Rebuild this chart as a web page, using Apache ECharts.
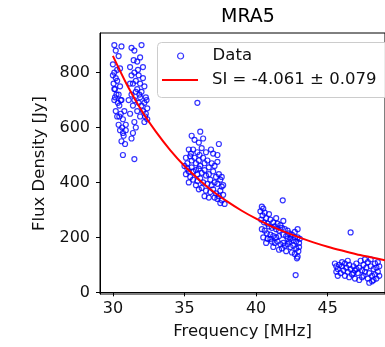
<!DOCTYPE html>
<html><head><meta charset="utf-8">
<script src="https://cdn.jsdelivr.net/npm/echarts@6/dist/echarts.min.js"></script>
<style>html,body{margin:0;padding:0;background:#fff}#c{width:385px;height:347px}</style>
</head><body><div id="c"></div>
<script>
const titleText = 'MRA5';
const xName = 'Frequency [MHz]';
const yName = 'Flux Density [Jy]';
const xTicks = [30, 35, 40, 45];
const yTicks = [0, 200, 400, 600, 800];
const dataName = 'Data';
const fitName = 'SI = -4.061 \u00b1 0.079';

const cluster30 = [
 [30.1,900],[30.2,880],[30.6,895],[30.4,860],[31.3,890],[31.5,880],[32.0,900],[31.7,840],[31.9,855],
 [30.0,830],[30.1,800],[30.05,760],[30.2,780],[30.3,770],[30.15,740],[30.25,720],[30.1,700],[30.4,720],
 [30.5,750],[30.35,690],[30.2,660],[30.45,680],[30.6,700],[30.3,640],[30.55,650],[30.7,630],[30.4,610],
 [30.65,600],[30.8,660],[30.5,590],[30.75,570],[30.9,610],[30.6,550],[30.85,540],[30.7,500],[30.1,740],
 [30.3,810],[30.0,790],[30.5,815],[30.45,640],[30.9,590],[30.55,700],[30.15,710],[30.7,580],
 [31.2,820],[31.3,790],[31.4,760],[31.5,800],[31.6,770],[31.7,740],[31.8,790],[31.9,760],[32.0,730],
 [32.1,780],[32.2,750],[32.3,710],[31.3,720],[31.5,700],[31.6,730],[31.8,690],[31.9,710],[32.0,680],
 [32.1,660],[32.2,690],[32.3,650],[32.4,630],[31.4,680],[31.7,660],[31.9,640],[32.2,620],[31.2,650],
 [31.5,620],[31.6,600],[31.4,580],[31.3,560],[31.1,700],[32.4,670],[32.35,700],[31.75,810],[31.45,845],
 [32.1,820],[31.2,760],[31.85,720],[32.25,640],[31.5,485]
];
const cluster36 = [
 [35.9,690],[35.5,570],[36.1,585],[35.7,555],[36.0,545],[36.3,560],[37.4,540],[35.3,520],[35.6,520],
 [35.9,510],[36.2,525],[36.5,510],[37.0,505],[37.3,500],[35.1,490],[35.2,470],[35.4,495],[35.5,480],
 [35.7,490],[35.8,470],[36.0,480],[36.1,460],[36.3,490],[36.4,470],[36.6,480],[36.7,455],[36.9,470],
 [37.1,460],[37.3,475],[35.0,460],[35.2,450],[35.3,440],[35.5,455],[35.6,440],[35.8,445],[35.9,430],
 [36.0,450],[36.2,435],[36.4,445],[36.5,425],[36.7,430],[36.8,410],[37.0,440],[37.2,420],[37.4,430],
 [35.1,430],[35.4,420],[35.6,410],[35.9,405],[36.1,415],[36.3,400],[36.6,395],[36.9,390],[37.1,400],
 [37.3,395],[37.5,410],[37.6,385],[36.2,380],[36.5,370],[36.8,365],[37.0,375],[37.2,360],[37.4,350],
 [37.5,370],[37.7,355],[37.3,340],[37.6,335],[37.8,322],[37.5,325],[37.1,345],[35.3,400],[35.8,390],
 [36.0,375],[36.4,350],[36.7,345],[37.7,390],[37.6,420],[35.45,505],[36.05,500],[36.85,520]
];
const cluster41 = [
 [41.86,335],[42.76,63],[40.4,312],[40.5,305],[40.3,295],[40.6,290],[40.45,280],[40.7,270],[40.35,265],
 [40.55,255],[40.8,250],[41.0,265],[41.2,255],[40.9,240],[40.4,230],[40.6,225],[40.75,215],[41.1,235],
 [41.3,240],[41.5,250],[41.7,245],[41.4,230],[41.6,225],[41.8,235],[42.0,230],[42.2,225],[41.0,210],
 [41.2,205],[40.5,200],[40.8,195],[41.4,200],[41.6,205],[41.9,210],[42.1,205],[42.3,215],[42.5,210],
 [42.7,220],[42.9,200],[42.4,195],[42.6,190],[42.8,185],[43.0,180],[41.1,185],[41.3,180],[41.5,185],
 [41.7,175],[41.9,180],[42.0,170],[42.2,175],[42.4,165],[42.6,170],[42.8,160],[43.0,165],[40.7,180],
 [41.8,160],[42.1,150],[42.5,145],[42.7,140],[42.9,130],[42.85,124],[41.6,155],[41.2,165],[42.3,185],
 [42.95,150],[42.9,230],[43.05,195],[41.4,270],[41.9,260],[40.9,285],[42.2,195],[41.0,195],[42.7,200]
];
const cluster47 = [
 [46.6,218],[45.5,105],[45.6,95],[45.7,85],[45.6,75],[45.8,100],[45.9,70],[46.0,95],[46.1,80],[46.2,60],
 [46.0,110],[46.3,90],[46.4,75],[46.5,55],[46.5,100],[46.6,85],[46.7,65],[46.8,95],[46.9,50],[46.9,80],
 [47.0,105],[47.1,70],[47.2,90],[47.2,45],[47.3,115],[47.4,80],[47.5,60],[47.5,100],[47.6,75],[47.7,90],
 [47.8,50],[47.8,110],[47.9,70],[48.0,95],[48.0,120],[48.1,60],[48.1,40],[48.2,85],[48.3,105],[48.3,65],
 [48.4,90],[48.4,50],[48.5,75],[48.5,110],[48.6,95],[48.6,60],[45.7,60],[46.2,105],[46.8,70],[47.4,55],
 [47.0,85],[47.6,120],[48.2,45],[46.4,115],[47.9,35]
];
const fitFreq = [30,31,32,33,34,35,36,37,38,39,40,41,42,43,44,45,46,47,48,49];
const fitFlux = [861,754,662,585,518,460,411,367,330,297,268,242,220,200,182,166,152,139,128,117];

const allData = cluster30.concat(cluster36, cluster41, cluster47);
const fitData = fitFreq.map((f, i) => [f, fitFlux[i]]);

const FONT = 'DejaVu Sans';
const chart = echarts.init(document.getElementById('c'), null, {renderer: 'canvas'});
chart.setOption({
  animation: false,
  backgroundColor: '#fff',
  title: {text: titleText, left: 221, top: 8, padding: 0,
    textStyle: {fontFamily: FONT, fontSize: 19, fontWeight: 'normal', color: '#000'}},
  grid: {left: 100, top: 33, width: 293, height: 261, show: true, borderColor: '#000', borderWidth: 1, backgroundColor: 'transparent'},
  xAxis: {type: 'value', min: 29.1, max: 49.0,
    name: xName, nameLocation: 'middle', nameGap: 29,
    nameTextStyle: {fontFamily: FONT, fontSize: 16.5, color: '#111'},
    axisLine: {show: true, lineStyle: {color: '#000', width: 1}},
    axisTick: {show: true, length: 4, lineStyle: {color: '#000'}, customValues: xTicks},
    axisLabel: {fontFamily: FONT, fontSize: 16, color: '#111', margin: 7, customValues: xTicks},
    splitLine: {show: false}},
  yAxis: {type: 'value', min: -6, max: 944,
    name: yName, nameLocation: 'middle', nameGap: 47,
    nameTextStyle: {fontFamily: FONT, fontSize: 16.5, color: '#111'},
    axisLine: {show: true, lineStyle: {color: '#000', width: 1}},
    axisTick: {show: true, length: 4, lineStyle: {color: '#000'}, customValues: yTicks},
    axisLabel: {fontFamily: FONT, fontSize: 16, color: '#111', margin: 10, customValues: yTicks},
    splitLine: {show: false}},
  graphic: [{type: 'rect', z: 100, shape: {x: 157.5, y: 42.5, width: 240, height: 55, r: 4},
    style: {fill: 'rgba(255,255,255,0.85)', stroke: '#cccccc', lineWidth: 1}}],
  legend: [
    {data: [{name: dataName, icon: 'circle'}], orient: 'vertical', left: 177, top: 47, padding: 0, z: 110,
      itemWidth: 6, itemHeight: 6, symbolKeepAspect: true,
      itemStyle: {color: 'transparent', borderColor: '#0000ff', borderWidth: 1.2},
      textStyle: {fontFamily: FONT, fontSize: 16.5, color: '#111', lineHeight: 18, padding: [0,0,0,24]}},
    {data: [{name: fitName, icon: 'rect', itemStyle: {color: '#ff0000', borderWidth: 0}}], orient: 'vertical', left: 162, top: 71, padding: 0, z: 110,
      itemWidth: 36, itemHeight: 2,
      textStyle: {fontFamily: FONT, fontSize: 16.5, color: '#111', lineHeight: 18, padding: [0,0,0,9]}}
  ],
  series: [
    {name: dataName, type: 'scatter', data: allData, symbol: 'circle', symbolSize: 5,
      itemStyle: {color: 'transparent', borderColor: '#0000ff', borderWidth: 1.2}, z: 2},
    {name: fitName, type: 'line', data: fitData, symbol: 'none', showSymbol: false, smooth: 0.3,
      lineStyle: {color: '#ff0000', width: 2}, itemStyle: {color: '#ff0000'}, z: 3}
  ]
});
</script></body></html>
